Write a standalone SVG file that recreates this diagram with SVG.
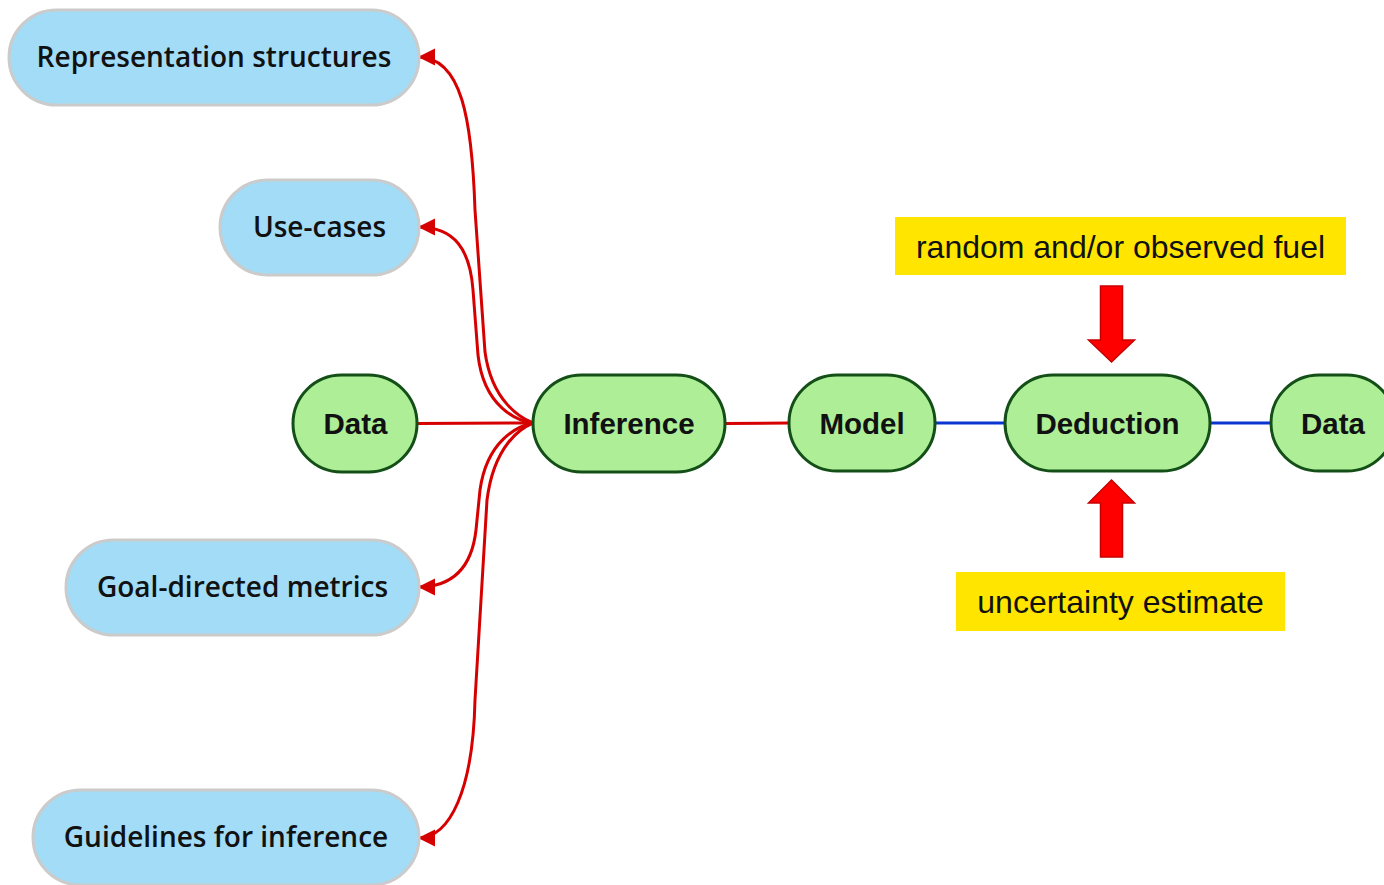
<svg xmlns="http://www.w3.org/2000/svg" width="1384" height="885" viewBox="0 0 1384 885">
  <style>
    .topic rect { fill: #a2dcf7; stroke: #cbcbcb; stroke-width: 3; }
    .topic text { font-family: "Open Sans", "Liberation Sans", sans-serif; font-size: 28px; font-weight: 600; fill: #111; text-anchor: middle; }
    .step rect { fill: #adee97; stroke: #134f17; stroke-width: 3; }
    .step text { font-family: "Liberation Sans", Arial, sans-serif; font-size: 29.5px; font-weight: bold; fill: #111; text-anchor: middle; }
    .note rect { fill: #ffe500; }
    .note text { font-family: "Liberation Sans", Arial, sans-serif; font-size: 32px; fill: #111; text-anchor: middle; }
    .red { fill: none; stroke: #d60000; stroke-width: 3; }
    .blue { fill: none; stroke: #0a35d0; stroke-width: 3; }
    .push { fill: #ff0000; stroke: #c80000; stroke-width: 1.5; }
  </style>
  <defs>
    <marker id="head" markerUnits="userSpaceOnUse" markerWidth="18" markerHeight="18" refX="17" refY="8.5" orient="auto">
      <path d="M0,0 L17,8.5 L0,17 z" fill="#d60000"/>
    </marker>
  </defs>
  <rect width="1384" height="885" fill="#ffffff"/>

  <!-- connectors -->
  <g id="connectors">
    <path class="red" d="M417,423.5 L533,423"/>
    <path class="red" d="M725,423.5 L789,423"/>
    <path class="blue" d="M935,423 L1005,423"/>
    <path class="blue" d="M1210,423 L1271,423"/>
    <path class="red" marker-end="url(#head)" d="M533,423 C521,418 492,402 485,352 L475,210 C472,120 462,57 418,57"/>
    <path class="red" marker-end="url(#head)" d="M533,423 C518,421 484,408 478,355 L473,290 C470,250 455,227 418,227"/>
    <path class="red" marker-end="url(#head)" d="M533,423 C518,426 487,440 480,490 L476,530 C472,565 455,587 418,587"/>
    <path class="red" marker-end="url(#head)" d="M533,423 C521,428 494,445 487,500 L475,700 C473,790 450,838 418,838"/>
  </g>

  <!-- topics feeding inference -->
  <g id="representation-structures" class="topic">
    <rect x="9" y="10" width="410" height="95" rx="47.5"/>
    <text x="214" y="67">Representation structures</text>
  </g>
  <g id="use-cases" class="topic">
    <rect x="220" y="180" width="199" height="95" rx="47.5"/>
    <text x="319.5" y="237">Use-cases</text>
  </g>
  <g id="goal-directed-metrics" class="topic">
    <rect x="66" y="540" width="353" height="95" rx="47.5"/>
    <text x="242.5" y="597">Goal-directed metrics</text>
  </g>
  <g id="guidelines-for-inference" class="topic">
    <rect x="33" y="790" width="386" height="95" rx="47.5"/>
    <text x="226" y="847">Guidelines for inference</text>
  </g>

  <!-- main chain -->
  <g id="data-in" class="step">
    <rect x="293" y="375" width="124" height="97" rx="48.5"/>
    <text x="355.5" y="434">Data</text>
  </g>
  <g id="inference" class="step">
    <rect x="533" y="375" width="192" height="97" rx="48.5"/>
    <text x="629" y="434">Inference</text>
  </g>
  <g id="model" class="step">
    <rect x="789" y="375" width="146" height="96" rx="48"/>
    <text x="862" y="434">Model</text>
  </g>
  <g id="deduction" class="step">
    <rect x="1005" y="375" width="205" height="96" rx="48"/>
    <text x="1107.5" y="434">Deduction</text>
  </g>
  <g id="data-out" class="step">
    <rect x="1271" y="375" width="124" height="96" rx="48"/>
    <text x="1333" y="434">Data</text>
  </g>

  <!-- inputs to deduction -->
  <g id="fuel-note" class="note">
    <rect x="895" y="217" width="451" height="58"/>
    <text x="1120.5" y="258">random and/or observed fuel</text>
  </g>
  <g id="fuel-arrow">
    <polygon class="push" points="1100.5,286 1122.5,286 1122.5,340 1134.5,340 1111.5,362 1088.5,340 1100.5,340"/>
  </g>
  <g id="uncertainty-arrow">
    <polygon class="push" points="1111.5,480 1134.5,503 1122.5,503 1122.5,557 1100.5,557 1100.5,503 1088.5,503"/>
  </g>
  <g id="uncertainty-note" class="note">
    <rect x="956" y="572" width="329" height="59"/>
    <text x="1120.5" y="613">uncertainty estimate</text>
  </g>
</svg>
